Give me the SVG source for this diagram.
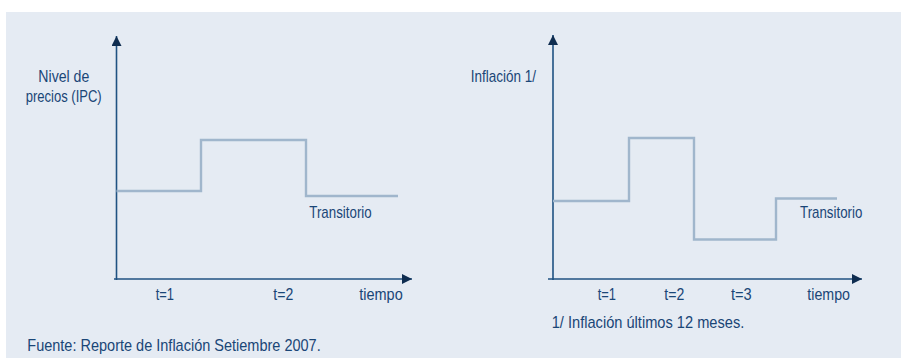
<svg xmlns="http://www.w3.org/2000/svg" width="901" height="358" viewBox="0 0 901 358">
<style>
.t{font-family:"Liberation Sans",Arial,sans-serif;font-size:17px;fill:#1a4677}
.ax{stroke:#1f5282;stroke-width:1.6;fill:none}
.st{stroke:#a0b6cc;stroke-width:2.4;fill:none}
</style>
<defs>
<marker id="ah" viewBox="0 0 10 10" refX="10" refY="5" markerWidth="10" markerHeight="10" markerUnits="userSpaceOnUse" orient="auto">
<path d="M0,0 L10,5 L0,10 z" fill="#0f2d50"/>
</marker>
</defs>
<rect x="6" y="12" width="895" height="346" fill="#e5ebf3"/>
<g id="connectors">
<path class="ax" d="M116.5,280 V36" marker-end="url(#ah)"/>
<path class="ax" d="M114,279 H412" marker-end="url(#ah)"/>
<path class="ax" d="M553,280 V35" marker-end="url(#ah)"/>
<path class="ax" d="M548,279 H862" marker-end="url(#ah)"/>
</g>
<g id="series-left">
<path class="st" d="M116.5,191 H201 V140 H306 V196 H398"/>
</g>
<g id="series-right">
<path class="st" d="M553,201 H629 V138 H694 V239.5 H776 V198.5 H837"/>
</g>
<g id="labels-left">
<text class="t" x="38.3" y="82" textLength="51" lengthAdjust="spacingAndGlyphs">Nivel de</text>
<text class="t" x="25.7" y="101.5" textLength="76" lengthAdjust="spacingAndGlyphs">precios (IPC)</text>
<text class="t" x="309.3" y="218" textLength="62.4" lengthAdjust="spacingAndGlyphs">Transitorio</text>
<text class="t" x="155.7" y="300" textLength="18.3" lengthAdjust="spacingAndGlyphs">t=1</text>
<text class="t" x="273.3" y="300" textLength="20" lengthAdjust="spacingAndGlyphs">t=2</text>
<text class="t" x="359.3" y="300" textLength="43.4" lengthAdjust="spacingAndGlyphs">tiempo</text>
<text class="t" x="27.3" y="351" textLength="293.4" lengthAdjust="spacingAndGlyphs">Fuente: Reporte de Inflación Setiembre 2007.</text>
</g>
<g id="labels-right">
<text class="t" x="470.7" y="82" textLength="65.3" lengthAdjust="spacingAndGlyphs">Inflación 1/</text>
<text class="t" x="800" y="218" textLength="62.3" lengthAdjust="spacingAndGlyphs">Transitorio</text>
<text class="t" x="597.7" y="300" textLength="18.3" lengthAdjust="spacingAndGlyphs">t=1</text>
<text class="t" x="664.3" y="300" textLength="20" lengthAdjust="spacingAndGlyphs">t=2</text>
<text class="t" x="731" y="300" textLength="20.7" lengthAdjust="spacingAndGlyphs">t=3</text>
<text class="t" x="807.3" y="300" textLength="42.7" lengthAdjust="spacingAndGlyphs">tiempo</text>
<text class="t" x="551.7" y="328" textLength="192.6" lengthAdjust="spacingAndGlyphs">1/ Inflación últimos 12 meses.</text>
</g>
</svg>
